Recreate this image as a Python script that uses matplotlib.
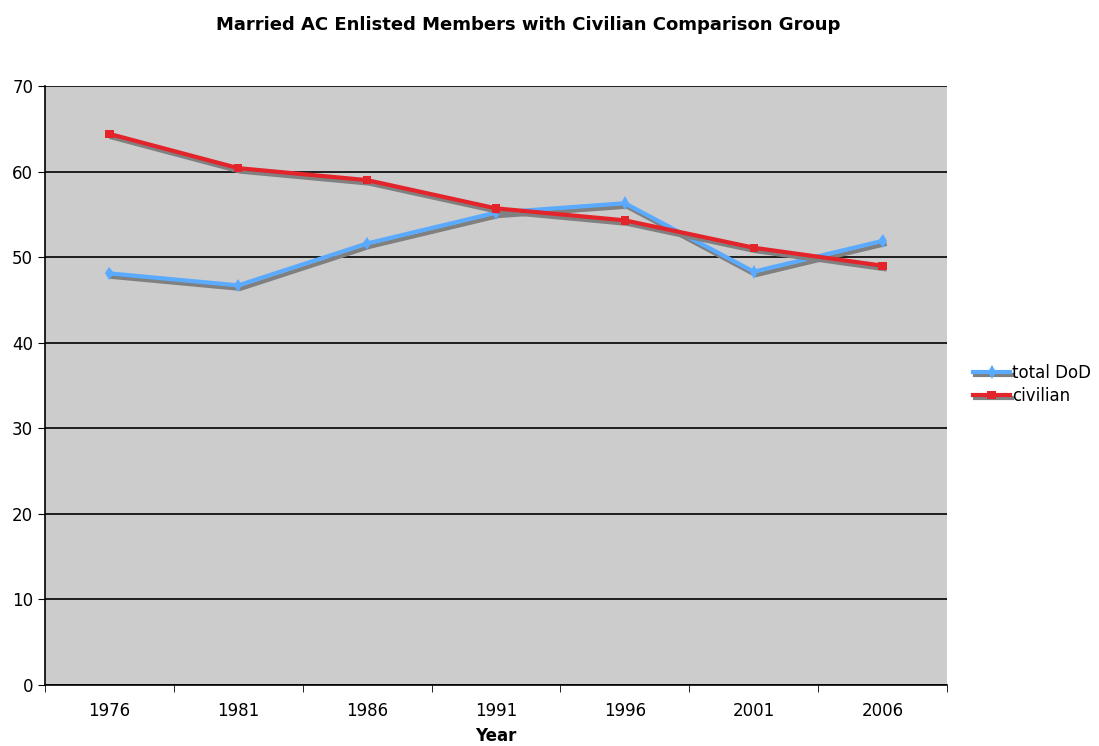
import matplotlib.pyplot as plt
import matplotlib.patheffects as pe

years = ["1976", "1981", "1986", "1991", "1996", "2001", "2006"]
total_dod = [48.1, 46.7, 51.6, 55.2, 56.3, 48.3, 51.9]
civilian = [64.4, 60.4, 59.0, 55.7, 54.3, 51.1, 49.0]

fig = plt.figure(figsize=(10.99, 7.46), dpi=100)
ax = fig.add_axes([45 / 1099, 61 / 746, 902 / 1099, 599 / 746])
ax.set_facecolor("#cccccc")

x = list(range(len(years)))
shadow = [pe.SimpleLineShadow(offset=(1.5, -2.5), shadow_color="#808080", alpha=1.0), pe.Normal()]
ax.plot(x, total_dod, color="#5aaaff", lw=3, marker="d", ms=7, mew=0, label="total DoD",
        path_effects=shadow)
ax.plot(x, civilian, color="#e3242b", lw=3, marker="s", ms=6, mew=0, label="civilian",
        path_effects=shadow)

ax.set_xlim(-0.5, len(years) - 0.5)
ax.set_ylim(0, 70)
ax.set_yticks(range(0, 71, 10))
ax.yaxis.grid(True, color="black", lw=1.2)
ax.set_axisbelow(True)

ax.set_xticks(x)
ax.set_xticklabels(years, fontsize=12)
ax.tick_params(axis="x", length=0, pad=12)
ax.set_xticks([i + 0.5 for i in range(-1, len(years))], minor=True)
ax.tick_params(axis="x", which="minor", length=5, direction="out", color="black")
ax.tick_params(axis="y", length=5, direction="out", labelsize=12)

for s in ["top", "right"]:
    ax.spines[s].set_visible(False)
for s in ["left", "bottom"]:
    ax.spines[s].set_color("black")
    ax.spines[s].set_linewidth(1.2)

ax.set_xlabel("Year", fontsize=12, fontweight="bold", labelpad=5)
fig.text(0.481, 0.966, "Married AC Enlisted Members with Civilian Comparison Group",
         ha="center", va="center", fontsize=13, fontweight="bold")

fig.legend(loc="center left", bbox_to_anchor=(0.872, 0.485), frameon=False,
           fontsize=12, handlelength=2.2, handletextpad=0.1, labelspacing=0.3)

fig.savefig("out.png", dpi=100)
